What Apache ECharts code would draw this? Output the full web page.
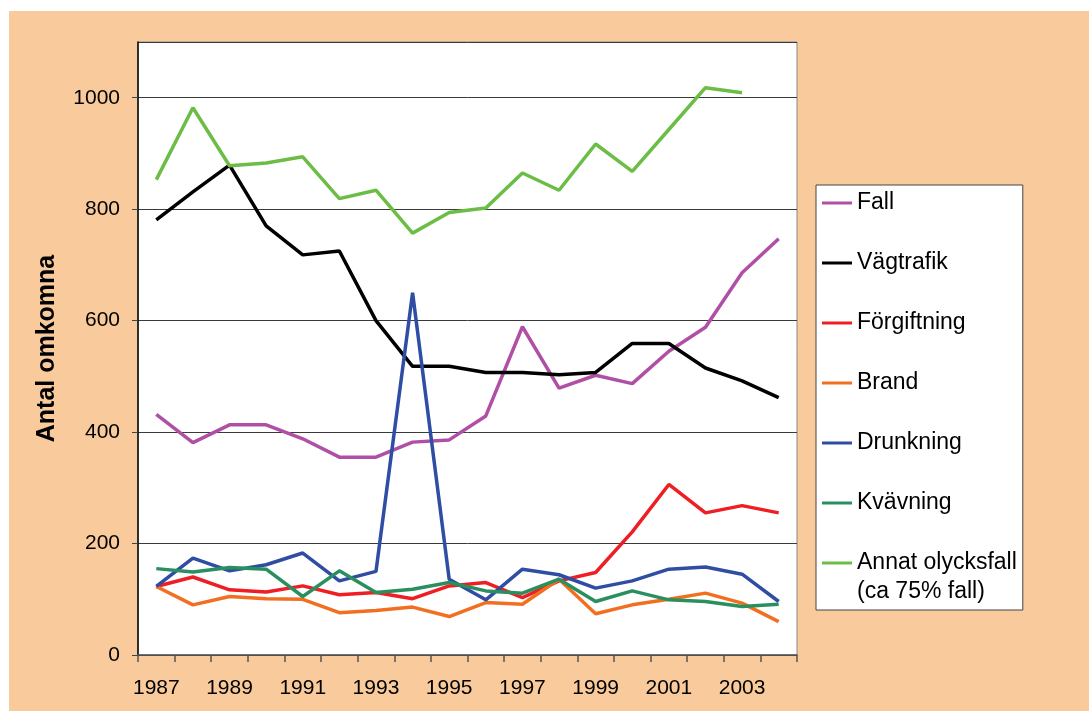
<!DOCTYPE html>
<html>
<head>
<meta charset="utf-8">
<script src="https://cdn.jsdelivr.net/npm/echarts@6/dist/echarts.min.js"></script>
<style>
  html, body { margin: 0; padding: 0; background: #ffffff; }
  #bg { position: absolute; left: 9px; top: 11px; width: 1080px; height: 700px; background: #F9CB9C; }
  #chart { position: absolute; left: 0; top: 0; width: 1089px; height: 713px; }
</style>
</head>
<body>
<div id="bg"></div>
<div id="chart"></div>
<script>
const years = ['1987','1988','1989','1990','1991','1992','1993','1994','1995','1996','1997','1998','1999','2000','2001','2002','2003','2004'];
const yTicks = [0, 200, 400, 600, 800, 1000];

const fall        = [432, 381, 413, 413, 388, 355, 355, 382, 386, 429, 589, 479, 502, 487, 545, 588, 686, 747];
const vagtrafik   = [781, 831, 879, 770, 718, 725, 600, 518, 518, 507, 507, 503, 507, 559, 559, 515, 492, 462];
const forgiftning = [123, 140, 117, 113, 124, 108, 112, 101, 124, 130, 103, 133, 148, 221, 306, 255, 268, 255];
const brand       = [123, 90, 105, 101, 100, 76, 80, 86, 69, 94, 91, 136, 74, 90, 100, 111, 93, 60];
const drunkning   = [123, 174, 151, 162, 183, 133, 150, 650, 136, 99, 154, 144, 120, 133, 154, 158, 145, 96];
const kvavning    = [155, 149, 157, 154, 105, 151, 112, 118, 130, 115, 111, 136, 96, 115, 99, 96, 87, 91];
const annat       = [853, 982, 878, 883, 894, 819, 834, 757, 794, 802, 865, 834, 917, 868, 943, 1018, 1009, null];

const seriesNames = ['Fall', 'Vägtrafik', 'Förgiftning', 'Brand', 'Drunkning', 'Kvävning', 'Annat olycksfall'];
const annatNote = '(ca 75% fall)';
const seriesData = [fall, vagtrafik, forgiftning, brand, drunkning, kvavning, annat];
const colors = ['#B04FA6', '#000000', '#EE1E24', '#F26F22', '#2E4DA3', '#2A8F5E', '#6BBD45'];

const chart = echarts.init(document.getElementById('chart'), null, { renderer: 'canvas' });
const font = 'Liberation Sans, Arial, sans-serif';

const option = {
  backgroundColor: 'transparent',
  animation: false,
  color: colors,
  grid: {
    left: 138, right: 292, top: 42, bottom: 58,
    show: true, backgroundColor: '#ffffff', borderColor: '#888888', borderWidth: 1
  },
  legend: {
    orient: 'vertical',
    left: 816, top: 185,
    padding: [3, 6, 32, 6],
    itemGap: 30,
    itemWidth: 30, itemHeight: 3,
    icon: 'rect',
    backgroundColor: '#ffffff',
    borderColor: '#444444', borderWidth: 1,
    textStyle: { fontSize: 23, fontFamily: font, color: '#000', lineHeight: 30 },
    data: seriesNames
  },
  graphic: [{
    type: 'text',
    z: 100,
    x: 857, y: 592,
    style: {
      text: annatNote,
      fontSize: 23, fontFamily: font, fill: '#000',
      verticalAlign: 'middle', align: 'left'
    }
  }],
  xAxis: {
    type: 'category',
    data: years,
    boundaryGap: true,
    axisLine: { lineStyle: { color: '#555555', width: 1.5 } },
    axisTick: { show: true, interval: 0, length: 7, lineStyle: { color: '#555555', width: 1.5 } },
    axisLabel: { interval: 1, margin: 23, fontSize: 21, fontFamily: font, color: '#000' },
    splitLine: { show: false }
  },
  yAxis: {
    type: 'value',
    min: 0, max: 1100, interval: 200,
    name: 'Antal omkomna',
    nameLocation: 'middle',
    nameGap: 78,
    nameTextStyle: { fontSize: 25, fontWeight: 'bold', fontFamily: font, color: '#000' },
    axisLine: { show: true, lineStyle: { color: '#000', width: 1.5 } },
    axisTick: { show: true, length: 6, lineStyle: { color: '#444' } },
    axisLabel: {
      margin: 18, fontSize: 21, fontFamily: font, color: '#000',
      showMaxLabel: false,
      formatter: function (v) { return yTicks.indexOf(v) >= 0 ? String(v) : ''; }
    },
    splitLine: { show: true, lineStyle: { color: '#3a3a3a', width: 1 } }
  },
  series: seriesNames.map((n, i) => ({
    name: n,
    type: 'line',
    data: seriesData[i],
    symbol: 'none',
    lineStyle: { width: 3.5, color: colors[i] },
    itemStyle: { color: colors[i] },
    connectNulls: false
  }))
};
chart.setOption(option);
</script>
</body>
</html>
